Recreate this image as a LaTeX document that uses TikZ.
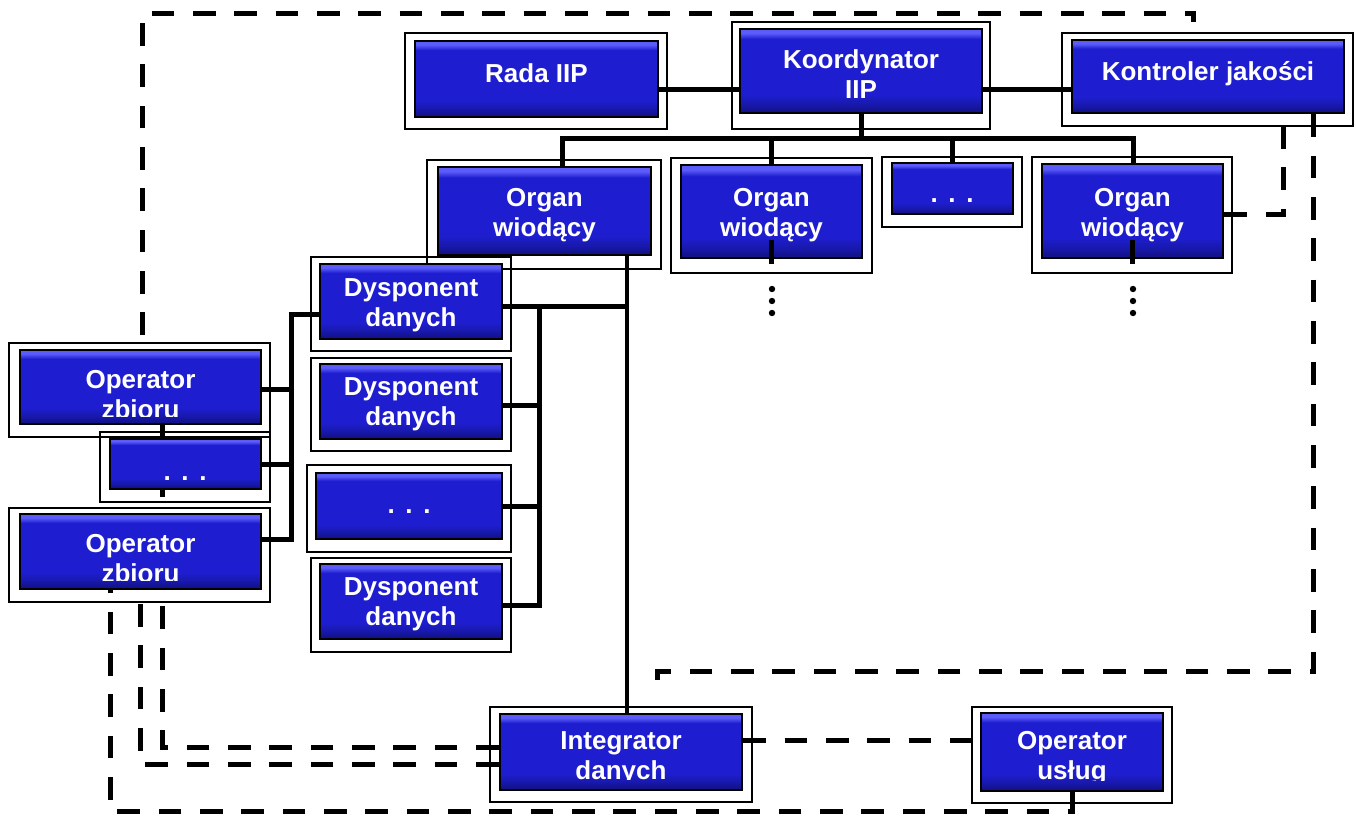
\documentclass[tikz,border=0pt]{standalone}
\usepackage{fontspec}
\setmainfont{Liberation Sans}
\usetikzlibrary{fit}
\definecolor{bbA}{RGB}{16,16,128}
\definecolor{bbB}{RGB}{24,24,170}
\definecolor{bbM}{RGB}{30,30,208}
\definecolor{bbT}{RGB}{92,92,250}
\pgfdeclareverticalshading{bluebox}{100bp}{color(0bp)=(bbA); color(25bp)=(bbA); color(30bp)=(bbB); color(36bp)=(bbM); color(69bp)=(bbM); color(72.5bp)=(bbT); color(75bp)=(bbT); color(100bp)=(bbT)}
\pgfdeclarelayer{bg}
\pgfdeclarelayer{mid}
\pgfdeclarelayer{fg}
\pgfsetlayers{bg,mid,main,fg}
\tikzset{
  frame/.style={draw=black, line width=1.3pt, inner sep=0pt},
  bbox/.style={draw=black, line width=2pt, inner sep=0pt, shade, shading=bluebox},
  lbl/.style={text=white, font=\fontsize{19.5}{22.5}\selectfont\bfseries, align=center, inner sep=0pt},
  conn/.style={line width=3.75pt},
  vconn/.style={line width=3pt},
  dconn/.style={line width=3.75pt, dash pattern=on 17pt off 14pt, line join=miter},
}
\newcommand\tdots{.\hspace{8pt}.\hspace{8pt}.}
\begin{document}
\begin{tikzpicture}[x=0.75pt,y=-0.75pt]
\useasboundingbox (0,0) rectangle (1356,817);
% blue boxes
\node[bbox, fit={(415,41) (658,117)}] (rada) {};
\node[bbox, fit={(740,29) (982,113)}] (koord) {};
\node[bbox, fit={(1072,40) (1344,113)}] (kontr) {};
\node[bbox, fit={(438,167) (651,255)}] (org1) {};
\node[bbox, fit={(681,165) (862,258)}] (org2) {};
\node[bbox, fit={(892,163) (1013,214)}] (orgd) {};
\node[bbox, fit={(1042,164) (1223,258)}] (org4) {};
\node[bbox, fit={(320,264) (502,339)}] (dys1) {};
\node[bbox, fit={(320,364) (502,439)}] (dys2) {};
\node[bbox, fit={(316,473) (502,539)}] (dysd) {};
\node[bbox, fit={(320,564) (502,639)}] (dys4) {};
\node[bbox, fit={(20,350) (261,424)}] (op1) {};
\node[bbox, fit={(110,439) (261,489)}] (opd) {};
\node[bbox, fit={(20,514) (261,589)}] (op2) {};
\node[bbox, fit={(500,714) (742,790)}] (integ) {};
\node[bbox, fit={(981,713) (1163,791)}] (usl) {};
% frames
\begin{pgfonlayer}{bg}
\node[frame, fit={(405,33) (667,129)}] (rada-f) {};
\node[frame, fit={(732,22) (990,129)}] (koord-f) {};
\node[frame, fit={(1062,33) (1353,126)}] (kontr-f) {};
\node[frame, fit={(427,160) (661,269)}] (org1-f) {};
\node[frame, fit={(671,158) (872,273)}] (org2-f) {};
\node[frame, fit={(882,157) (1022,227)}] (orgd-f) {};
\node[frame, fit={(1032,157) (1232,273)}] (org4-f) {};
\node[frame, fit={(311,257) (511,351)}] (dys1-f) {};
\node[frame, fit={(311,358) (511,451)}] (dys2-f) {};
\node[frame, fit={(307,465) (511,552)}] (dysd-f) {};
\node[frame, fit={(311,558) (511,652)}] (dys4-f) {};
\node[frame, fit={(9,343) (270,437)}] (op1-f) {};
\node[frame, fit={(100,432) (270,502)}] (opd-f) {};
\node[frame, fit={(9,508) (270,602)}] (op2-f) {};
\node[frame, fit={(490,707) (752,802)}] (integ-f) {};
\node[frame, fit={(972,707) (1172,803)}] (usl-f) {};
\end{pgfonlayer}
% coordinates
\coordinate (h1) at (700,90);
\coordinate (bL) at (562,138);
\coordinate (bR) at (1133,138);
\coordinate (k1) at (1283,214);
\coordinate (k2) at (1313,671);
\coordinate (k3) at (657,671);
\coordinate (k4) at (657,697);
\coordinate (t0) at (142,335);
\coordinate (t1) at (142,14);
\coordinate (t2) at (1193,14);
\coordinate (t3) at (1193,22);
\coordinate (v) at (627,306);
\coordinate (r1) at (539,306);
\coordinate (r2) at (539,405);
\coordinate (r3) at (539,506);
\coordinate (r4) at (539,605);
\coordinate (l1) at (291,314);
\coordinate (l2) at (291,389);
\coordinate (l3) at (291,464);
\coordinate (l4) at (291,539);
\coordinate (s1) at (162,497);
\coordinate (c1) at (162,747);
\coordinate (c2) at (140,764);
\coordinate (c3) at (110,811);
\coordinate (c4) at (1072,811);
\coordinate (c5) at (860,740);
% connectors
\begin{pgfonlayer}{mid}
\draw[conn] (rada.east |- h1) -- (koord.west |- h1);
\draw[conn] (koord.east |- h1) -- (kontr.west |- h1);
\draw[conn] (koord.south) -- (koord.south |- bL);
\draw[conn] (bL |- org1.north) -- (bL) -- (bR) -- (bR |- org4.north);
\draw[conn] (org2.north) -- (org2.north |- bL);
\draw[conn] (orgd.north) -- (orgd.north |- bL);
\draw[vconn] (v |- org1.south) -- (v |- integ.north);
\draw[conn] (dys1.east |- v) -- (v);
\draw[conn] (r1) -- (r4) -- (dys4.east |- r4);
\draw[conn] (dys2.east |- r2) -- (r2);
\draw[conn] (dysd.east |- r3) -- (r3);
\draw[conn] (dys1.west |- l1) -- (l1) -- (l4) -- (op2.east |- l4);
\draw[conn] (op1.east |- l2) -- (l2);
\draw[conn] (opd.east |- l3) -- (l3);
\draw[conn] (s1 |- op1.south) -- (s1 |- opd.north);
\draw[conn] (s1 |- opd.south) -- (s1);
\draw[dconn] (t0) -- (t1) -- (t2) -- (t3);
\draw[dconn] (org4.east |- k1) -- (k1) -- (k1 |- kontr.south);
\draw[dconn] (k2 |- kontr.south) -- (k2) -- (k3) -- (k4);
\draw[dconn] (integ.west |- c1) -- (c1) -- (c1 |- op2.south);
\draw[dconn] (integ.west |- c2) -- (c2) -- (c2 |- op2.south);
\draw[dconn] (usl.south) -- (c4) -- (c3) -- (c3 |- op2.south);
\draw[dconn] (integ.east |- c5) -- (usl.west |- c5);
\end{pgfonlayer}
% labels
\node[lbl] at ([yshift=4pt]rada.center) {Rada IIP};
\node[lbl] at ([yshift=-2.5pt]koord.center) {Koordynator\\IIP};
\node[lbl] at ([yshift=2.5pt]kontr.center) {Kontroler jakości};
\node[lbl] at ([yshift=-3pt]org1.center) {Organ\\wiodący};
\node[lbl] at ([yshift=-3pt]org2.center) {Organ\\wiodący};
\node[lbl] at ([yshift=-3pt]org4.center) {Organ\\wiodący};
\node[lbl, anchor=base] at (952,202) {\tdots};
\node[lbl] at ([yshift=-3pt]dys1.center) {Dysponent\\danych};
\node[lbl] at ([yshift=-2pt]dys2.center) {Dysponent\\danych};
\node[lbl, anchor=base] at (409,513) {\tdots};
\node[lbl] at ([yshift=-2pt]dys4.center) {Dysponent\\danych};
\node[lbl, anchor=base] at (185,480) {\tdots};
\begin{scope}
\clip (20,350) rectangle (261,416);
\node[lbl] at ([yshift=-6pt]op1.center) {Operator\\zbioru};
\end{scope}
\begin{scope}
\clip (20,514) rectangle (261,580);
\node[lbl] at ([yshift=-5pt]op2.center) {Operator\\zbioru};
\end{scope}
\begin{scope}
\clip (500,714) rectangle (742,779);
\node[lbl] at ([yshift=-5pt]integ.center) {Integrator\\danych};
\end{scope}
\begin{scope}
\clip (981,713) rectangle (1163,780);
\node[lbl] at ([yshift=-5pt]usl.center) {Operator\\usług};
\end{scope}
% stubs and vertical dots
\begin{pgfonlayer}{fg}
\draw[conn] ([yshift=14.25pt]org2.south) -- ([yshift=-3.75pt]org2.south);
\draw[conn] ([yshift=14.25pt]org4.south) -- ([yshift=-3.75pt]org4.south);
\foreach \yy in {289,301,313} {
  \fill (772,\yy) circle (3.2);
  \fill (1133,\yy) circle (3.2);
}
\end{pgfonlayer}
\end{tikzpicture}
\end{document}
